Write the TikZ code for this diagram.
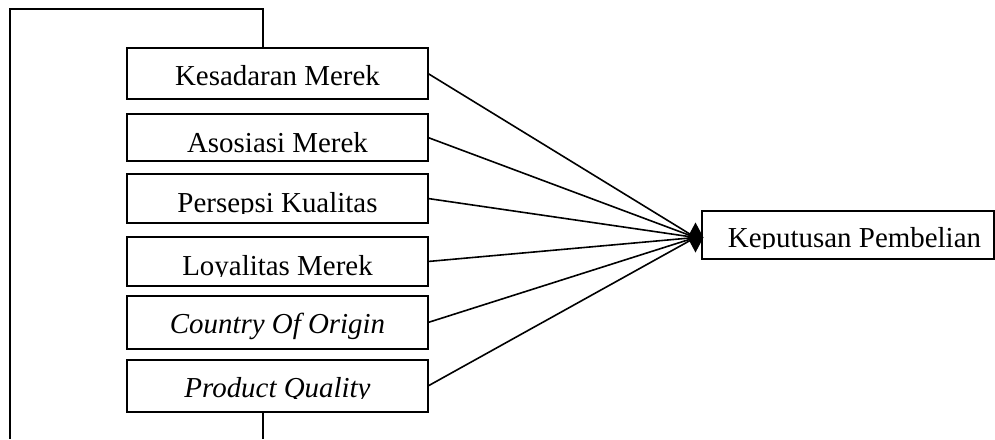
\documentclass[tikz,border=0pt]{standalone}
\usepackage{fontspec}
\setmainfont{Liberation Serif}
\usetikzlibrary{shapes.geometric}
\tikzset{
  box/.style={draw, line width=1.2pt, rectangle, inner sep=0pt, outer sep=0pt, minimum width=225.75pt},
  lbl/.style={anchor=base, inner sep=0pt, font=\fontsize{21.7pt}{26pt}\selectfont},
  conn/.style={line width=1.2pt},
}
\begin{document}
\begin{tikzpicture}[x=0.75pt,y=-0.75pt]
\useasboundingbox (0,0) rectangle (995,439);
% boxes
\node[box, minimum height=51*0.75pt] (b1) at (277.5,73.5) {};
\node[box, minimum height=47*0.75pt] (b2) at (277.5,137.5) {};
\node[box, minimum height=49*0.75pt] (b3) at (277.5,198.5) {};
\node[box, minimum height=49*0.75pt] (b4) at (277.5,261.5) {};
\node[box, minimum height=53*0.75pt] (b5) at (277.5,322.5) {};
\node[box, minimum height=52*0.75pt] (b6) at (277.5,386) {};
\node[box, minimum width=219pt, minimum height=48*0.75pt] (kp) at (848,235) {};
% texts (clipped like the original)
\begin{scope}\clip (128,49) rectangle (427,96);
\node[lbl] (t1) at (277.5,85) {Kesadaran Merek};\end{scope}
\begin{scope}\clip (128,115) rectangle (427,158);
\node[lbl] (t2) at (277.5,152) {Asosiasi Merek};\end{scope}
\begin{scope}\clip (128,175) rectangle (427,213.5);
\node[lbl] (t3) at (277.5,212) {Persepsi Kualitas};\end{scope}
\begin{scope}\clip (128,238) rectangle (427,276.5);
\node[lbl] (t4) at (277.5,275) {Loyalitas Merek};\end{scope}
\begin{scope}\clip (128,297) rectangle (427,341);
\node[lbl] (t5) at (277.5,333) {\itshape Country Of Origin};\end{scope}
\begin{scope}\clip (128,361) rectangle (427,398.5);
\node[lbl] (t6) at (277.5,397) {\itshape Product Quality};\end{scope}
\begin{scope}\clip (703,212) rectangle (993,248.5);
\node[lbl] (t7) at (854.5,247) {Keputusan Pembelian};\end{scope}
% hub diamond
\node[diamond, fill, inner sep=0pt, outer sep=0pt, aspect=0.52, minimum width=16*0.75pt, minimum height=30*0.75pt] (hub) at (695.5,237.5) {};
\foreach \b in {b1,b2,b3,b4,b5,b6}{
  \draw[conn] (\b.east) -- (hub.center);
}
% feedback loop
\coordinate (ltop) at (10,9);
\coordinate (lbot) at (10,439);
\draw[conn] ([xshift=102pt]b1.north west) |- (ltop) -- (lbot);
\coordinate (bbot) at (263,439);
\draw[conn] ([xshift=102pt]b6.south west) -- (bbot);
\end{tikzpicture}
\end{document}
